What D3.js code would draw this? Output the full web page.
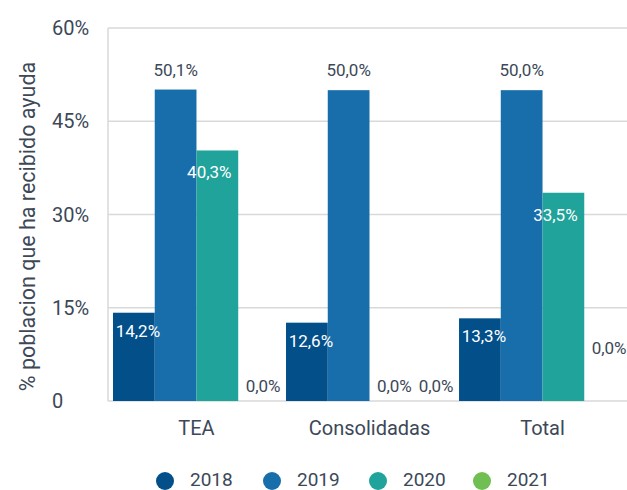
<!DOCTYPE html>
<html>
<head>
<meta charset="utf-8">
<script src="https://cdn.jsdelivr.net/npm/d3@7"></script>
<style>
    body { margin: 0; background: #fff; }
    text { font-family: Roboto, "Noto Sans", sans-serif; }
</style>
</head>
<body>
<svg id="chart" width="627" height="490"></svg>
<script>
// Data
let categories = ["TEA", "Consolidadas", "Total"];
let years = ["2018", "2019", "2020", "2021"];
let v2018 = [14.2, 12.6, 13.3];
let v2019 = [50.1, 50.0, 50.0];
let v2020 = [40.3, 0.0, 33.5];
let v2021 = [0.0, 0.0, 0.0];
let yTicks = [0, 15, 30, 45, 60];
let colors = ["#024f8a", "#186eaa", "#1fa39a", "#6fbf52"];

let series = [v2018, v2019, v2020, v2021];

let margin = {left: 108, right: 0, top: 28, bottom: 89},
    width = 627 - margin.left - margin.right,
    height = 490 - margin.top - margin.bottom;

let textColor = "#3c4858";

let svg = d3.select("#chart");
let g = svg.append("g")
    .attr("transform", "translate(" + margin.left + "," + margin.top + ")");

// Scales
let x0 = d3.scaleBand()
    .domain(categories)
    .range([5, width - 1])
    .paddingInner(0.035)
    .paddingOuter(0);
let x1 = d3.scaleBand()
    .domain(years)
    .range([0, x0.bandwidth()]);
let y = d3.scaleLinear()
    .domain([0, 60])
    .range([height, 0]);

// Grid lines
g.selectAll(".grid")
    .data(yTicks)
    .join("line")
    .attr("x1", 0)
    .attr("x2", width)
    .attr("y1", d => y(d))
    .attr("y2", d => y(d))
    .attr("stroke", "#d9d9d9")
    .attr("stroke-width", 1.5);

g.append("line")
    .attr("x1", 0).attr("x2", 0)
    .attr("y1", 0).attr("y2", height)
    .attr("stroke", "#d9d9d9")
    .attr("stroke-width", 1.5);

// Y tick labels (left aligned)
g.selectAll(".ytick")
    .data(yTicks)
    .join("text")
    .attr("x", -56)
    .attr("y", d => y(d) + 7)
    .attr("fill", textColor)
    .style("font-size", "20px")
    .text(d => d === 0 ? "0" : d + "%");

// Y title
svg.append("text")
    .attr("transform", "translate(35," + (margin.top + height / 2 + 12) + ") rotate(-90)")
    .attr("text-anchor", "middle")
    .attr("fill", textColor)
    .style("font-size", "21.5px")
    .text("% poblacion que ha recibido ayuda");

// Bars
let rows = [];
categories.forEach((c, i) => {
    years.forEach((yr, j) => {
        rows.push({cat: c, year: yr, idx: j, value: series[j][i]});
    });
});

let groups = g.selectAll(".group")
    .data(categories)
    .join("g")
    .attr("transform", d => "translate(" + x0(d) + ",0)");

groups.selectAll("rect")
    .data(c => rows.filter(r => r.cat === c))
    .join("rect")
    .attr("x", d => x1(d.year))
    .attr("y", d => y(d.value))
    .attr("width", x1.bandwidth())
    .attr("height", d => height - y(d.value))
    .attr("fill", d => colors[d.idx]);

// Value labels
let fmt = v => v.toFixed(1).replace(".", ",") + "%";
let labelShift = d => {
    if (d.value === 0) return 4;
    if (d.idx === 2) return -8;
    if (d.idx === 0) return 4;
    return 0;
};
groups.selectAll(".lbl")
    .data(c => rows.filter(r => r.cat === c))
    .join("text")
    .attr("x", d => x1(d.year) + x1.bandwidth() / 2 + labelShift(d))
    .attr("y", d => {
        if (d.value === 0) {
            return d.cat === "Total" ? y(0) - 47 : y(0) - 9;
        }
        if (d.idx === 1) return y(d.value) - 14;
        if (d.idx === 2) return y(d.value) + 28;
        return y(d.value) + 24;
    })
    .attr("text-anchor", "middle")
    .attr("fill", d => (d.value === 0 || d.idx === 1) ? textColor : "#ffffff")
    .style("font-size", "17px")
    .text(d => fmt(d.value));

// X labels
g.selectAll(".xlbl")
    .data(categories)
    .join("text")
    .attr("x", d => x0(d) + x0.bandwidth() / 2)
    .attr("y", height + 34)
    .attr("text-anchor", "middle")
    .attr("fill", textColor)
    .style("font-size", "20px")
    .text(d => d);

// Legend
let legendX = [165, 272, 378, 482];
let legend = svg.selectAll(".legend")
    .data(years)
    .join("g")
    .attr("transform", (d, i) => "translate(" + legendX[i] + ",481)");
legend.append("circle")
    .attr("r", 9)
    .attr("fill", (d, i) => colors[i]);
legend.append("text")
    .attr("x", 25)
    .attr("y", 5)
    .attr("fill", textColor)
    .style("font-size", "19px")
    .text(d => d);
</script>
</body>
</html>
